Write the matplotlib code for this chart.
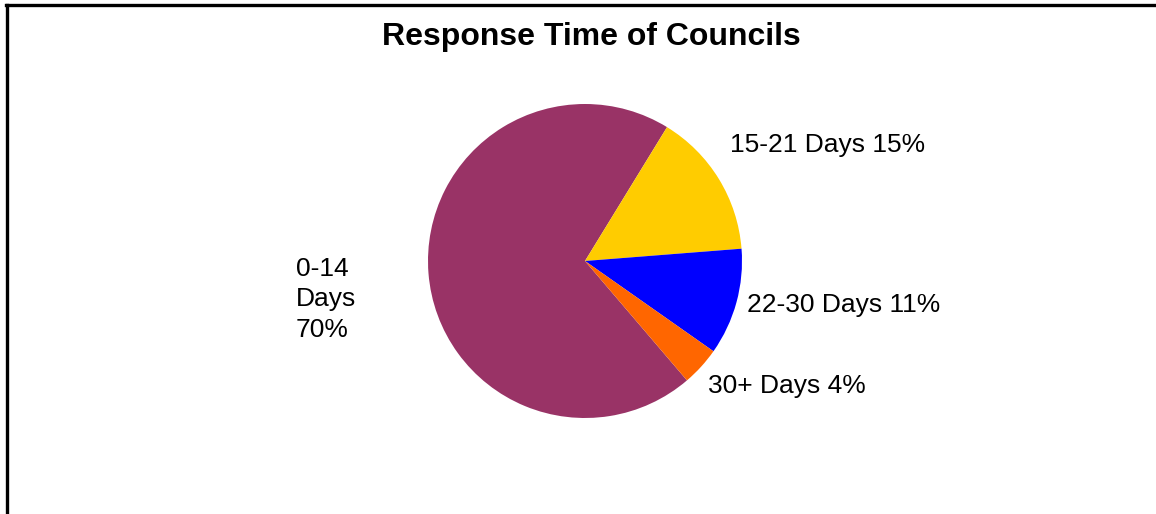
import matplotlib
matplotlib.use('Agg')

import matplotlib.pyplot as plt
from matplotlib.lines import Line2D

# Share of council responses by time taken
categories = ['0-14 Days', '15-21 Days', '22-30 Days', '30+ Days']
shares = [70, 15, 11, 4]
colors = ['#993366', '#FFCC00', '#0000FF', '#FF6600']

W, H = 1156, 514
plt.rcParams['font.family'] = ['Liberation Sans', 'DejaVu Sans']

fig = plt.figure(figsize=(W / 100, H / 100), dpi=100)


def fx(px):
    return px / W


def fy(py):
    return 1 - py / H


# pie sits in a square axes centred on the chart area
cx, cy, r = 585, 261, 157
ax = fig.add_axes([fx(cx - r), fy(cy + r), 2 * r / W, 2 * r / H])
ax.pie(shares, colors=colors, startangle=-49.5, counterclock=False,
       radius=1, wedgeprops=dict(linewidth=0))
ax.set_xlim(-1, 1)
ax.set_ylim(-1, 1)
ax.set_aspect('equal')
ax.axis('off')

fig.text(fx(591), fy(37), 'Response Time of Councils', ha='center',
         va='center', fontsize=23, fontweight='bold')

# data labels: category name and percentage (baseline of last line)
label_pos = [(296, 337), (730, 152), (747, 312), (708, 393)]
for (name, val), (lx, ly) in zip(zip(categories, shares), label_pos):
    txt = f'{name} {val}%'
    if val == max(shares):
        txt = txt.replace(' ', '\n')
    fig.text(fx(lx), fy(ly), txt, ha='left', va='baseline', fontsize=19,
             linespacing=1.35)

# chart border (only top and left edges fall inside the image)
fig.add_artist(Line2D([fx(7), fx(7)], [fy(4.5), 0], color='black',
                      linewidth=2.4, transform=fig.transFigure))
fig.add_artist(Line2D([fx(5.8), 1], [fy(4.5), fy(4.5)], color='black',
                      linewidth=2.4, transform=fig.transFigure))

fig.savefig('out.png', dpi=100)
plt.close(fig)
